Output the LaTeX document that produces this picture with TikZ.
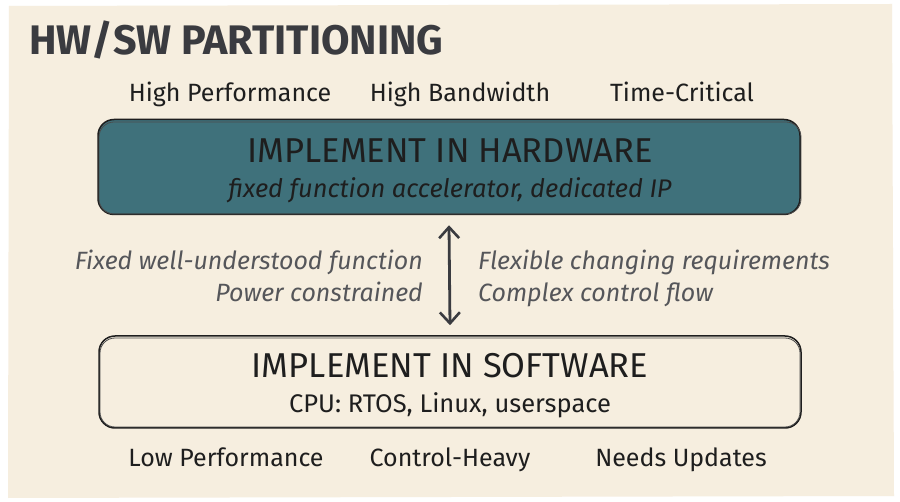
\documentclass[tikz,border=0pt]{standalone}
\usepackage{fontspec}
\setmainfont{Fira Sans}
\usetikzlibrary{arrows.meta}
\definecolor{paper}{HTML}{F6EEDF}
\definecolor{ink}{HTML}{1E1E1E}
\definecolor{titleink}{HTML}{3A3B40}
\definecolor{teal}{HTML}{3F717B}
\definecolor{grayink}{HTML}{55565A}
\tikzset{
  x=1pt,y=-1pt,
  box/.style={draw=ink,line width=1.5pt,rounded corners=16pt,minimum width=702pt,inner sep=0pt},
  boxsketch/.style={draw=ink!80,line width=0.8pt,rounded corners=15pt},
  lbl/.style={font=\fontsize{25}{28}\selectfont,text=ink,inner sep=0pt,anchor=base},
  head/.style={font=\fontsize{34.5}{38}\selectfont,text=ink,inner sep=0pt,anchor=base},
  sub/.style={font=\fontsize{25.5}{28}\selectfont\itshape,text=ink,inner sep=0pt,anchor=base},
  note/.style={font=\fontsize{25}{28}\selectfont\itshape,text=grayink,inner sep=0pt},
  arr/.style={draw=titleink,line width=2.8pt,{Straight Barb[length=11pt,width=20pt,line width=2.6pt]}-{Straight Barb[length=11pt,width=20pt,line width=2.6pt]}}
}
\begin{document}
\begin{tikzpicture}
\useasboundingbox (0,0) rectangle (900,502);
\fill[white] (0,0) rectangle (900,502);
\fill[paper] (9,6) -- (892,4) -- (894,496) -- (8,498) -- cycle;
\node[anchor=base west,inner sep=0pt,font=\fontsize{41.3}{46}\selectfont\bfseries,text=titleink] (title) at (29,55) {HW/SW PARTITIONING};
% top labels
\node[lbl] (hp) at (230,102) {High Performance};
\node[lbl] (hb) at (460,102) {High Bandwidth};
\node[lbl] (tc) at (682,102) {Time-Critical};
% hardware box
\node[box,fill=teal,minimum height=95pt] (hw) at (449,167) {};
\draw[boxsketch] (99,122) rectangle (801,214);
\node[head] (hwt) at (450,163) {IMPLEMENT IN HARDWARE};
\node[sub] (hws) at (450,198) {fixed function accelerator, dedicated IP};
% software box
\node[box,minimum height=92pt] (sw) at (450,382) {};
\draw[boxsketch] (100,338) rectangle (800,427);
\node[head] (swt) at (450,378) {IMPLEMENT IN SOFTWARE};
\node[sub,font=\fontsize{25.5}{28}\selectfont] (sws) at (450,413) {CPU: RTOS, Linux, userspace};
% arrow
\draw[arr] ([yshift=-10pt]hw.south) -- ([yshift=10pt]sw.north);
% side notes
\node[note,anchor=base east] (n1) at (423,270) {Fixed well-understood function};
\node[note,anchor=base east] (n2) at (423,302) {Power constrained};
\node[note,anchor=base west] (n3) at (478,270) {Flexible changing requirements};
\node[note,anchor=base west] (n4) at (478,302) {Complex control flow};
% bottom labels
\node[lbl] (lp) at (226,467) {Low Performance};
\node[lbl] (ch) at (450,467) {Control-Heavy};
\node[lbl] (nu) at (681,467) {Needs Updates};
\end{tikzpicture}
\end{document}
